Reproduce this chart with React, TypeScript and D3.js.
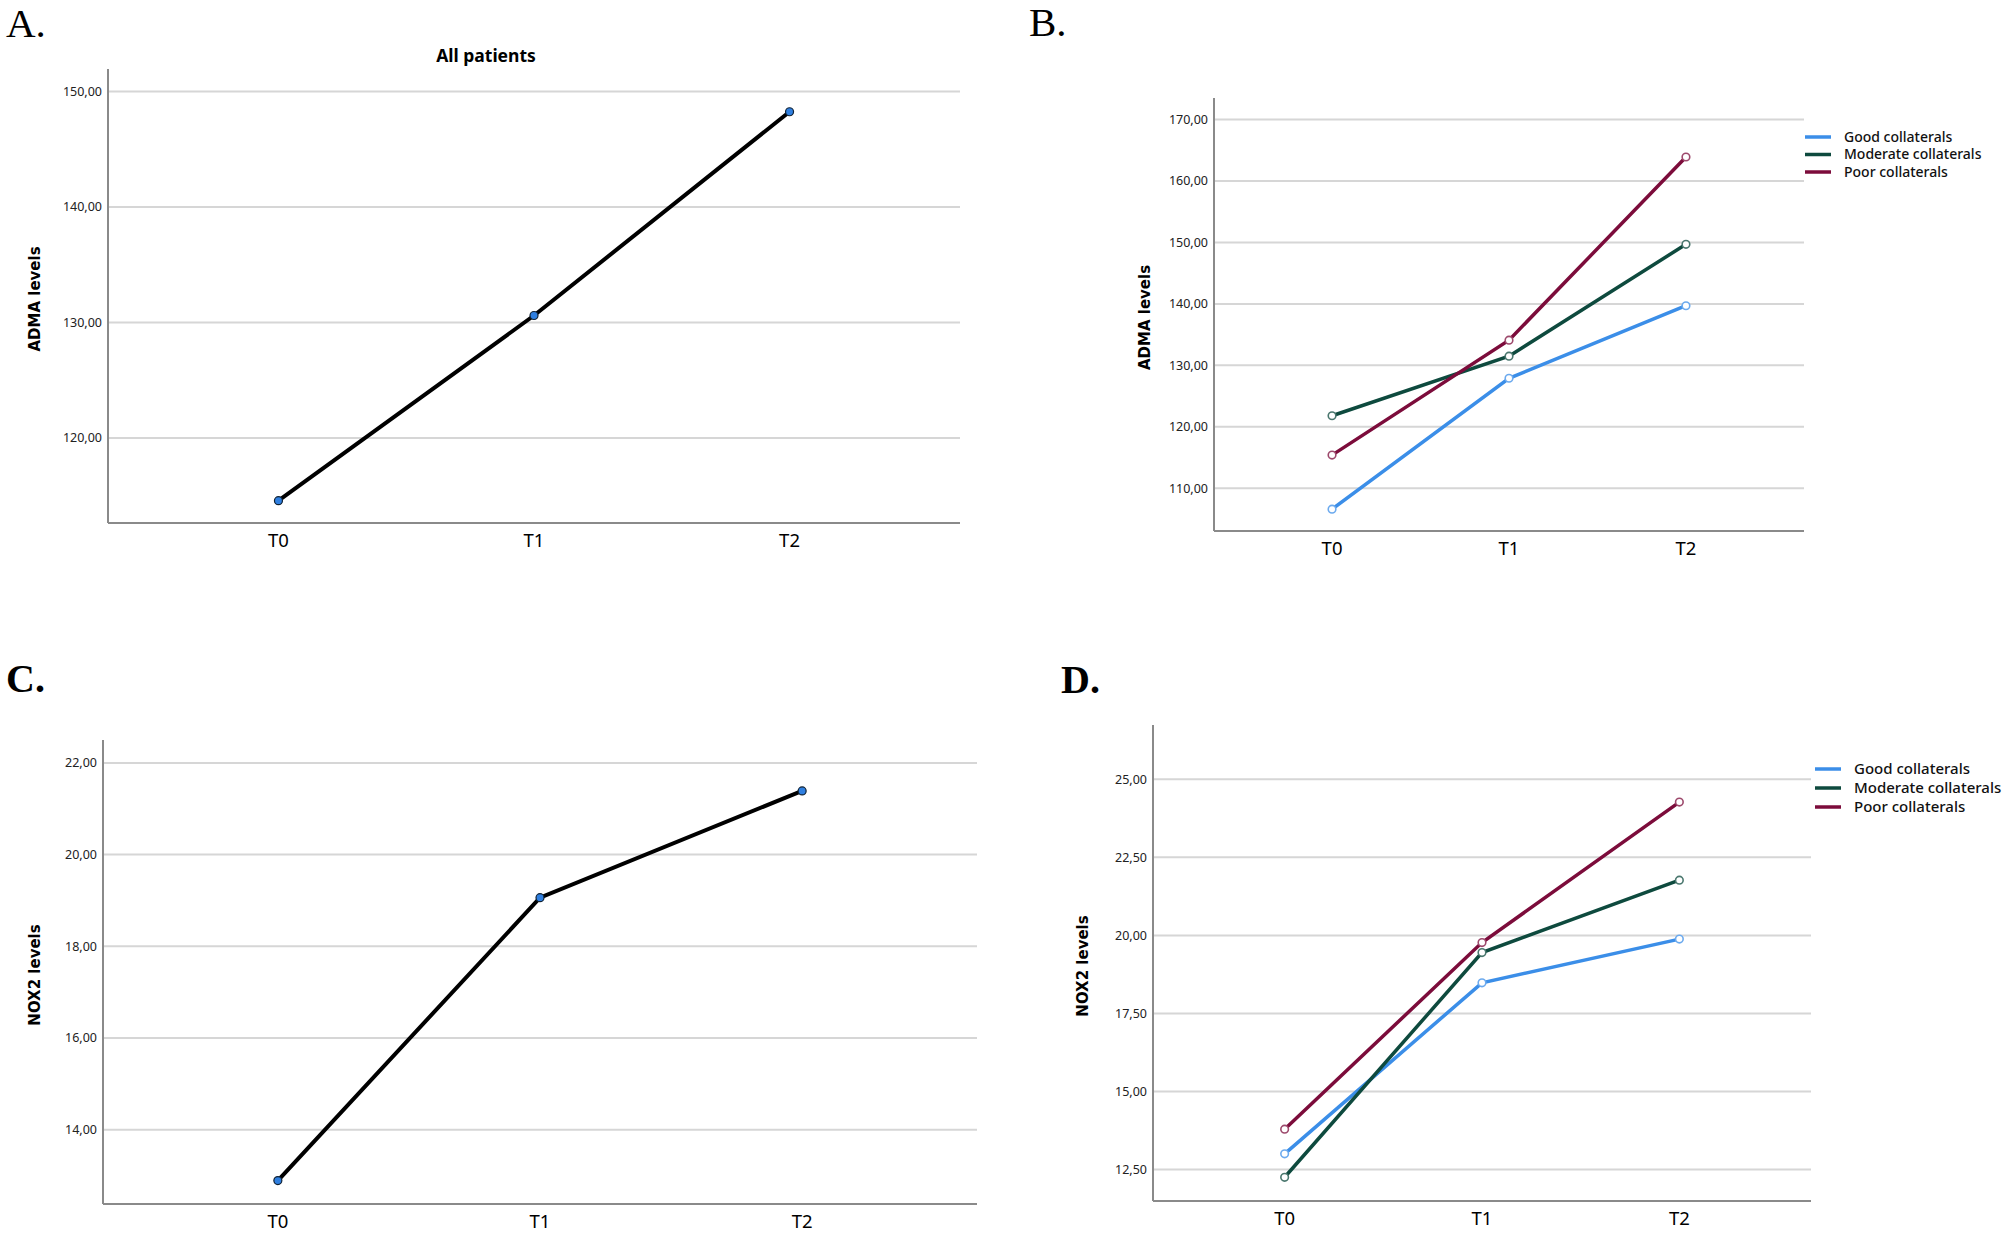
import React from 'react';
import * as d3 from 'd3';

const timepoints = ['T0', 'T1', 'T2'];
const groups = ['Good collaterals', 'Moderate collaterals', 'Poor collaterals'];
const groupColors = ['#3b8ee8', '#0e4a3e', '#7c0c3b'];

// all patients
const admaAll = [114.57, 130.6, 148.24];
const noxAll = [12.89, 19.06, 21.39];

// by collateral grade
const admaGood = [106.6, 127.9, 139.7];
const admaModerate = [121.8, 131.5, 149.7];
const admaPoor = [115.4, 134.1, 163.9];
const noxGood = [13.0, 18.48, 19.88];
const noxModerate = [12.25, 19.45, 21.77];
const noxPoor = [13.79, 19.77, 24.27];

const admaTicks = [120, 130, 140, 150];
const admaGroupTicks = [110, 120, 130, 140, 150, 160, 170];
const noxTicks = [14, 16, 18, 20, 22];
const noxGroupTicks = [12.5, 15, 17.5, 20, 22.5, 25];

const fmt = d3.formatLocale({ decimal: ',', thousands: '.', grouping: [3], currency: ['', ''] }).format('.2f');

type Series = { name?: string; values: number[]; color: string };

type PanelProps = {
  letter: string;
  bold: boolean;
  letterX: number;
  letterY: number;
  title?: string;
  yLabel: string;
  labelX: number;
  x0: number;
  x1: number;
  y0: number;
  y1: number;
  domain: [number, number];
  ticks: number[];
  series: Series[];
  grouped: boolean;
  legendX?: number;
  legendY?: number;
  legendGap?: number;
  legendSize?: number;
};

const Panel = (p: PanelProps) => {
  const x = d3.scalePoint().domain(timepoints).range([p.x0, p.x1]).padding(0.667);
  const y = d3.scaleLinear().domain(p.domain).range([p.y1, p.y0]);
  const line = d3
    .line<number>()
    .x((_, i) => x(timepoints[i]) as number)
    .y((d) => y(d));

  return (
    <g>
      <text
        x={p.letterX}
        y={p.letterY}
        fontFamily="'Liberation Serif', 'Times New Roman', serif"
        fontSize={p.bold ? 40 : 41}
        fontWeight={p.bold ? 700 : 400}
        fill="#000"
      >
        {p.letter}
      </text>
      {p.title && (
        <text
          x={486}
          y={p.y0 - 7}
          textAnchor="middle"
          fontFamily="'Noto Sans', sans-serif"
          fontSize={17.5}
          fontWeight={700}
        >
          {p.title}
        </text>
      )}
      {/* grid */}
      {p.ticks.map((t) => (
        <g key={t}>
          <line x1={p.x0} x2={p.x1} y1={y(t)} y2={y(t)} stroke="#d6d6d6" strokeWidth={2} />
          <text
            x={p.x0 - 6}
            y={y(t)}
            dy="0.35em"
            textAnchor="end"
            fontFamily="'Noto Sans', sans-serif"
            fontSize={12.5}
            fill="#222"
          >
            {fmt(t)}
          </text>
        </g>
      ))}
      {/* axes */}
      <line x1={p.x0} x2={p.x0} y1={p.y0} y2={p.y1} stroke="#8a8a8a" strokeWidth={2} />
      <line x1={p.x0} x2={p.x1} y1={p.y1} y2={p.y1} stroke="#8a8a8a" strokeWidth={2} />
      {timepoints.map((t) => (
        <text
          key={t}
          x={x(t)}
          y={p.y1 + 24}
          textAnchor="middle"
          fontFamily="'Noto Sans', sans-serif"
          fontSize={18.5}
          fill="#000"
        >
          {t}
        </text>
      ))}
      <text
        transform={`translate(${p.labelX}, ${(p.y0 + p.y1) / 2 + 3}) rotate(-90)`}
        textAnchor="middle"
        dy="0.35em"
        fontFamily="'DejaVu Sans', sans-serif"
        fontSize={15}
        fontWeight={700}
      >
        {p.yLabel}
      </text>
      {/* lines */}
      {p.series.map((s, si) => (
        <g key={si}>
          <path
            d={line(s.values) || undefined}
            fill="none"
            stroke={s.color}
            strokeWidth={p.grouped ? 3.5 : 4}
          />
          {s.values.map((v, i) =>
            p.grouped ? (
              <circle
                key={i}
                cx={x(timepoints[i])}
                cy={y(v)}
                r={3.8}
                fill="#fff"
                stroke={d3.interpolateRgb(s.color, '#fff')(0.25)}
                strokeWidth={1.6}
              />
            ) : (
              <circle key={i} cx={x(timepoints[i])} cy={y(v)} r={4} fill="#2f7fe0" stroke="#123" strokeWidth={1.2} />
            )
          )}
        </g>
      ))}
      {/* legend */}
      {p.grouped &&
        p.series.map((s, i) => (
          <g key={s.name} transform={`translate(${p.legendX}, ${(p.legendY as number) + i * (p.legendGap as number)})`}>
            <line x1={0} x2={26} y1={0} y2={0} stroke={s.color} strokeWidth={3.5} />
            <text
              x={39}
              y={0}
              dy="0.35em"
              fontFamily="'Noto Sans', sans-serif"
              fontSize={p.legendSize}
              fontWeight={500}
              fill="#111"
            >
              {s.name}
            </text>
          </g>
        ))}
    </g>
  );
};

const App = () => {
  const admaGroupSeries = [admaGood, admaModerate, admaPoor].map((values, i) => ({
    name: groups[i],
    values,
    color: groupColors[i],
  }));
  const noxGroupSeries = [noxGood, noxModerate, noxPoor].map((values, i) => ({
    name: groups[i],
    values,
    color: groupColors[i],
  }));

  return (
    <div style={{ position: 'absolute', left: 0, top: 0 }}>
      <svg width={2007} height={1234} style={{ display: 'block', background: '#fff' }}>
        <Panel
          letter="A."
          bold={false}
          letterX={6}
          letterY={37}
          title="All patients"
          yLabel="ADMA levels"
          labelX={35}
          x0={108}
          x1={960}
          y0={69}
          y1={523}
          domain={[112.64, 151.94]}
          ticks={admaTicks}
          series={[{ values: admaAll, color: '#000' }]}
          grouped={false}
        />
        <Panel
          letter="B."
          bold={false}
          letterX={1029}
          letterY={36}
          yLabel="ADMA levels"
          labelX={1145}
          x0={1214}
          x1={1804}
          y0={98}
          y1={531}
          domain={[103.05, 173.5]}
          ticks={admaGroupTicks}
          series={admaGroupSeries}
          grouped={true}
          legendX={1805}
          legendY={137}
          legendGap={17.5}
          legendSize={14}
        />
        <Panel
          letter="C."
          bold={true}
          letterX={6}
          letterY={692}
          yLabel="NOX2 levels"
          labelX={35}
          x0={103}
          x1={977}
          y0={740}
          y1={1204}
          domain={[12.38, 22.5]}
          ticks={noxTicks}
          series={[{ values: noxAll, color: '#000' }]}
          grouped={false}
        />
        <Panel
          letter="D."
          bold={true}
          letterX={1061}
          letterY={693}
          yLabel="NOX2 levels"
          labelX={1083}
          x0={1153}
          x1={1811}
          y0={725}
          y1={1201}
          domain={[11.49, 26.74]}
          ticks={noxGroupTicks}
          series={noxGroupSeries}
          grouped={true}
          legendX={1815}
          legendY={769}
          legendGap={19}
          legendSize={15}
        />
      </svg>
    </div>
  );
};

export default App;
